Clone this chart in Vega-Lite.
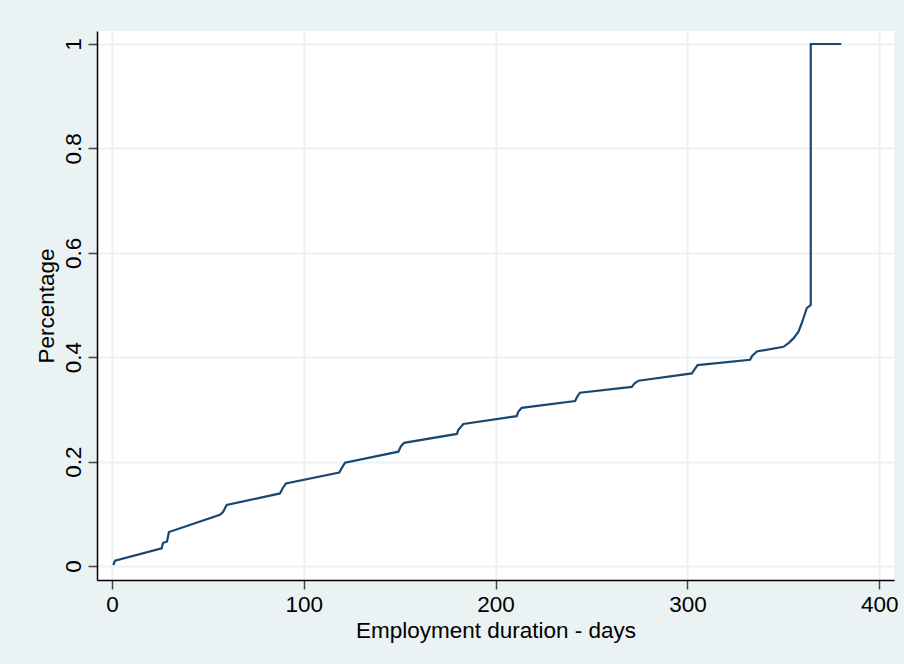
{
  "$schema": "https://vega.github.io/schema/vega-lite/v6.json",
  "width": 797,
  "height": 549,
  "autosize": {"type": "none"},
  "padding": {"left": 97, "top": 31, "right": 10, "bottom": 84},
  "background": "#EAF2F3",
  "config": {
    "view": {"fill": "white", "stroke": null},
    "font": "Liberation Sans",
    "axis": {
      "labelFont": "Liberation Sans",
      "titleFont": "Liberation Sans",
      "labelFontSize": 22.5,
      "titleFontSize": 22.5,
      "titleFontWeight": "normal",
      "labelColor": "#000000",
      "titleColor": "#000000",
      "domainColor": "#000000",
      "domainWidth": 1.5,
      "tickColor": "#444444",
      "tickWidth": 1.5,
      "tickSize": 9,
      "gridColor": "#EAF2F3",
      "gridWidth": 2,
      "gridOpacity": 1
    }
  },
  "data": {
    "values": [
      {"i": 1, "days": 0.7, "pct": 0.002},
      {"i": 2, "days": 1.6, "pct": 0.010},
      {"i": 3, "days": 25.9, "pct": 0.034},
      {"i": 4, "days": 26.6, "pct": 0.044},
      {"i": 5, "days": 28.7, "pct": 0.047},
      {"i": 6, "days": 29.7, "pct": 0.065},
      {"i": 7, "days": 56.3, "pct": 0.098},
      {"i": 8, "days": 58.0, "pct": 0.104},
      {"i": 9, "days": 59.8, "pct": 0.117},
      {"i": 10, "days": 87.6, "pct": 0.139},
      {"i": 11, "days": 89.0, "pct": 0.149},
      {"i": 12, "days": 90.7, "pct": 0.158},
      {"i": 13, "days": 118.5, "pct": 0.179},
      {"i": 14, "days": 119.7, "pct": 0.187},
      {"i": 15, "days": 121.5, "pct": 0.198},
      {"i": 16, "days": 149.3, "pct": 0.219},
      {"i": 17, "days": 150.6, "pct": 0.229},
      {"i": 18, "days": 152.3, "pct": 0.236},
      {"i": 19, "days": 179.8, "pct": 0.253},
      {"i": 20, "days": 180.6, "pct": 0.261},
      {"i": 21, "days": 183.2, "pct": 0.272},
      {"i": 22, "days": 211.0, "pct": 0.287},
      {"i": 23, "days": 211.9, "pct": 0.296},
      {"i": 24, "days": 213.6, "pct": 0.303},
      {"i": 25, "days": 241.5, "pct": 0.316},
      {"i": 26, "days": 242.5, "pct": 0.324},
      {"i": 27, "days": 244.0, "pct": 0.332},
      {"i": 28, "days": 271.0, "pct": 0.343},
      {"i": 29, "days": 272.5, "pct": 0.350},
      {"i": 30, "days": 274.5, "pct": 0.355},
      {"i": 31, "days": 302.3, "pct": 0.369},
      {"i": 32, "days": 303.2, "pct": 0.374},
      {"i": 33, "days": 305.3, "pct": 0.385},
      {"i": 34, "days": 332.7, "pct": 0.395},
      {"i": 35, "days": 333.6, "pct": 0.402},
      {"i": 36, "days": 336.2, "pct": 0.411},
      {"i": 37, "days": 350.1, "pct": 0.420},
      {"i": 38, "days": 352.7, "pct": 0.427},
      {"i": 39, "days": 355.3, "pct": 0.436},
      {"i": 40, "days": 357.9, "pct": 0.449},
      {"i": 41, "days": 359.6, "pct": 0.465},
      {"i": 42, "days": 360.8, "pct": 0.478},
      {"i": 43, "days": 362.2, "pct": 0.494},
      {"i": 44, "days": 364.3, "pct": 0.500},
      {"i": 45, "days": 364.3, "pct": 1.0},
      {"i": 46, "days": 380.2, "pct": 1.0}
    ]
  },
  "mark": {"type": "line", "color": "#1A476F", "strokeWidth": 2.2, "interpolate": "linear"},
  "encoding": {
    "x": {
      "field": "days",
      "type": "quantitative",
      "scale": {"domain": [-7.8, 407.7], "nice": false, "zero": false},
      "axis": {
        "title": "Employment duration - days",
        "values": [0, 100, 200, 300, 400],
        "labelPadding": 4,
        "titlePadding": 4,
        "labelFlush": false
      }
    },
    "y": {
      "field": "pct",
      "type": "quantitative",
      "scale": {"domain": [-0.0268, 1.0249], "nice": false, "zero": false},
      "axis": {
        "title": "Percentage",
        "values": [0, 0.2, 0.4, 0.6, 0.8, 1],
        "format": "~g",
        "labelAngle": -90,
        "labelAlign": "center",
        "labelBaseline": "alphabetic",
        "labelPadding": 8,
        "titlePadding": 4,
        "labelFlush": false
      }
    },
    "order": {"field": "i", "type": "quantitative"}
  }
}
